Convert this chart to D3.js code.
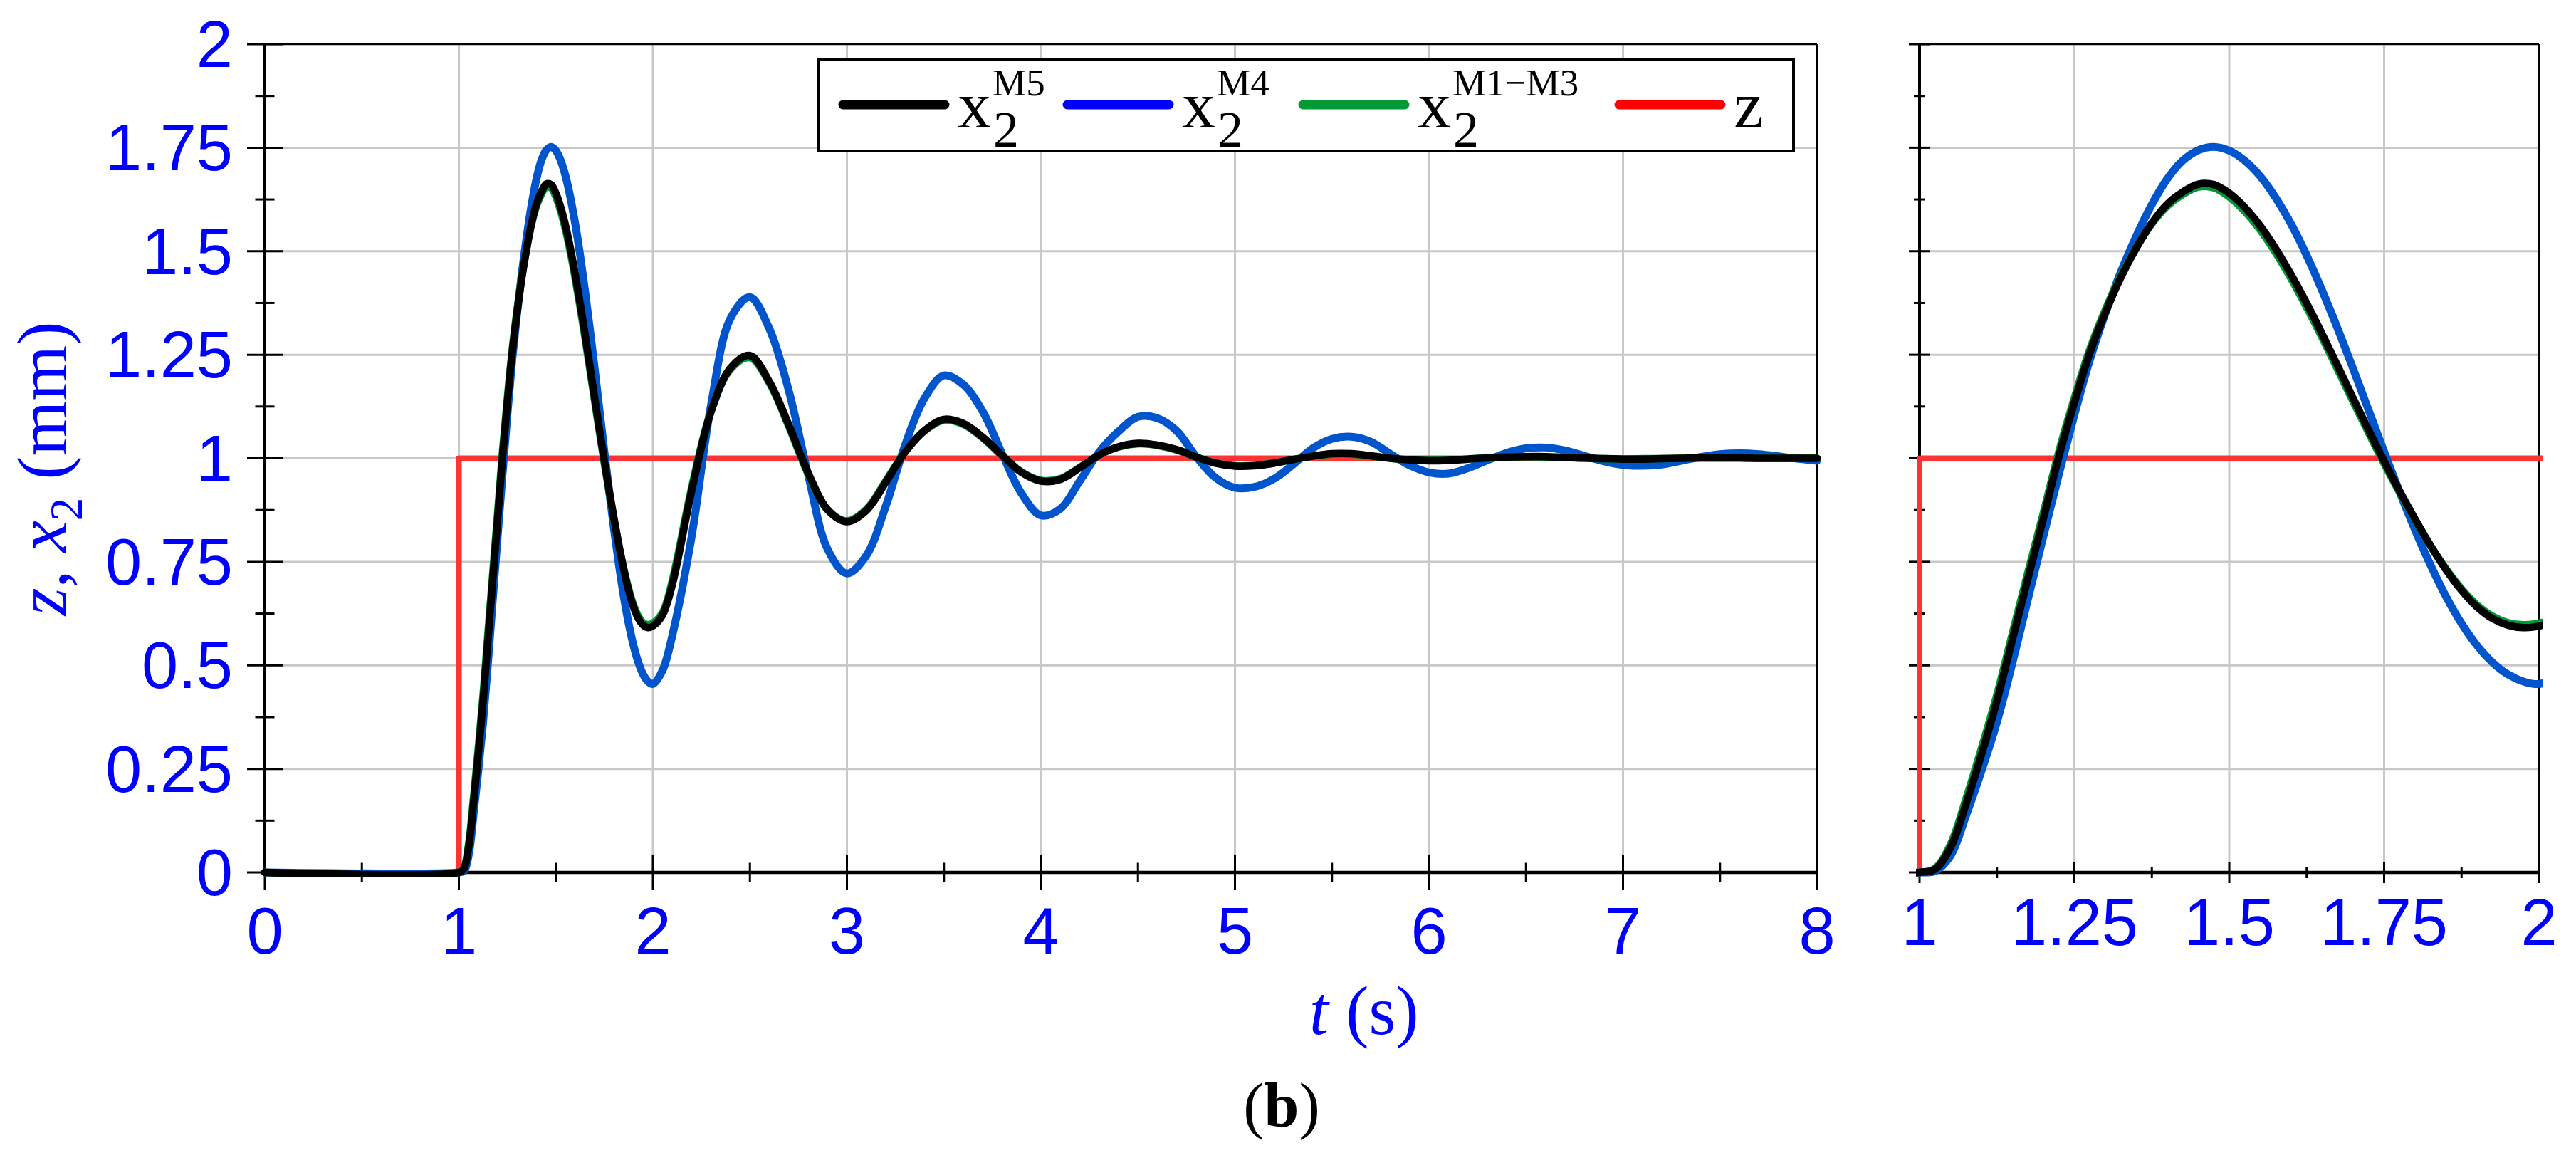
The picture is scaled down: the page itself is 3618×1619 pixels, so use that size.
<!DOCTYPE html>
<meta charset="utf-8">
<head>
<style>
  body { margin: 0; background: #fff; }
  .grid { stroke: #c8c8c8; stroke-width: 3; }
  .tickmark { stroke: #000; stroke-width: 3; }
  .ticklabel { font-family: "Liberation Sans", Arial, sans-serif; font-size: 92px; fill: #0000ff; }
  .serif { font-family: "Liberation Serif", "Times New Roman", serif; }
  .curve { fill: none; stroke-linejoin: round; stroke-linecap: round; }
</style>
</head>
<body>
<script src="https://d3js.org/d3.v7.min.js"></script>
<script>
// time samples (s), shared by the three x2 responses
var time = [0, 1, 1.025, 1.05, 1.075, 1.1, 1.125, 1.15, 1.175, 1.2, 1.225, 1.25, 1.275, 1.3, 1.325, 1.35,
  1.375, 1.4, 1.425, 1.45, 1.475, 1.5, 1.525, 1.55, 1.575, 1.6, 1.625, 1.65, 1.675, 1.7, 1.725, 1.75,
  1.775, 1.8, 1.825, 1.85, 1.875, 1.9, 1.925, 1.95, 1.975, 2, 2.05,
  2.1, 2.2, 2.3, 2.4, 2.5, 2.6, 2.7, 2.8, 2.9, 3, 3.1, 3.2, 3.3, 3.4, 3.5, 3.6, 3.7, 3.8, 3.9,
  4, 4.1, 4.2, 4.3, 4.4, 4.5, 4.6, 4.7, 4.8, 4.9, 5, 5.1, 5.2, 5.3, 5.4, 5.5, 5.6, 5.7, 5.8, 5.9,
  6, 6.1, 6.2, 6.3, 6.4, 6.5, 6.6, 6.7, 6.8, 6.9, 7, 7.1, 7.2, 7.3, 7.4, 7.5, 7.6, 7.7, 7.8, 7.9, 8];

// x2 (mm), model M5 (black)
var x2M5 = [0, 0, 0.008, 0.06, 0.165, 0.285, 0.415, 0.563, 0.71, 0.855, 1.005, 1.135, 1.255, 1.352, 1.437, 1.508,
  1.568, 1.614, 1.643, 1.662, 1.661, 1.64, 1.606, 1.561, 1.506, 1.443, 1.374, 1.3, 1.223, 1.145, 1.068, 0.993,
  0.921, 0.853, 0.789, 0.731, 0.681, 0.641, 0.613, 0.597, 0.591, 0.595, 0.622,
  0.695, 0.922, 1.113, 1.218, 1.248, 1.185, 1.081, 0.965, 0.876, 0.847, 0.874, 0.942, 1.015, 1.067, 1.094, 1.084, 1.051, 1.007, 0.966,
  0.945, 0.949, 0.977, 1.008, 1.028, 1.036, 1.032, 1.021, 1.003, 0.988, 0.981, 0.982, 0.988, 0.997, 1.005, 1.011, 1.011, 1.006, 1.0, 0.996,
  0.994, 0.995, 0.998, 1.001, 1.003, 1.004, 1.004, 1.002, 1.001, 0.999, 0.998, 0.998, 0.999, 1.0, 1.001, 1.001, 1.001, 1.0, 1.0, 1.0, 1.0];

// x2 (mm), model M4 (blue)
var x2M4 = [0, 0, 0.003, 0.04, 0.137, 0.245, 0.363, 0.506, 0.66, 0.812, 0.962, 1.105, 1.238, 1.35, 1.45, 1.537,
  1.613, 1.675, 1.719, 1.744, 1.752, 1.743, 1.719, 1.681, 1.629, 1.565, 1.49, 1.405, 1.313, 1.216, 1.116, 1.016,
  0.919, 0.827, 0.742, 0.666, 0.601, 0.548, 0.507, 0.478, 0.461, 0.455, 0.488,
  0.572, 0.812, 1.13, 1.338, 1.389, 1.313, 1.164, 0.96, 0.781, 0.722, 0.765, 0.884, 1.032, 1.145, 1.2, 1.178, 1.113, 1.011, 0.915,
  0.862, 0.878, 0.945, 1.015, 1.065, 1.1, 1.097, 1.066, 1.004, 0.953, 0.929, 0.931, 0.95, 0.985, 1.024, 1.047, 1.052, 1.04, 1.011, 0.983,
  0.966, 0.963, 0.976, 0.995, 1.013, 1.024, 1.026, 1.019, 1.006, 0.993, 0.984, 0.982, 0.985, 0.994, 1.003, 1.01, 1.012, 1.01, 1.005, 0.999, 0.994];

// x2 (mm), models M1-M3 (green)
var x2M13 = [0, 0, 0.01, 0.068, 0.178, 0.3, 0.43, 0.578, 0.725, 0.869, 1.017, 1.146, 1.264, 1.359, 1.441, 1.509,
  1.566, 1.609, 1.637, 1.655, 1.653, 1.631, 1.596, 1.551, 1.496, 1.433, 1.364, 1.291, 1.214, 1.137, 1.061, 0.987,
  0.917, 0.851, 0.789, 0.733, 0.685, 0.646, 0.619, 0.603, 0.598, 0.602, 0.628,
  0.705, 0.93, 1.115, 1.215, 1.243, 1.182, 1.077, 0.962, 0.876, 0.849, 0.877, 0.945, 1.016, 1.066, 1.092, 1.082, 1.049, 1.006, 0.967,
  0.947, 0.951, 0.978, 1.008, 1.027, 1.035, 1.031, 1.02, 1.003, 0.989, 0.982, 0.983, 0.989, 0.997, 1.005, 1.01, 1.01, 1.005, 1.0, 0.996,
  0.995, 0.996, 0.998, 1.001, 1.003, 1.004, 1.003, 1.002, 1.0, 0.999, 0.998, 0.999, 0.999, 1.0, 1.001, 1.001, 1.001, 1.0, 1.0, 1.0, 1.0];

// road input z (mm), a unit step at t = 1 s
var zTime = [0, 1, 1, 8];
var zValue = [0, 0, 1, 1];

// ticks
var yTicks = [0, 0.25, 0.5, 0.75, 1, 1.25, 1.5, 1.75, 2];
var yTickLabels = ["0", "0.25", "0.5", "0.75", "1", "1.25", "1.5", "1.75", "2"];
var xTicksMain = [0, 1, 2, 3, 4, 5, 6, 7, 8];
var xTickLabelsMain = ["0", "1", "2", "3", "4", "5", "6", "7", "8"];
var xTicksZoom = [1, 1.25, 1.5, 1.75, 2];
var xTickLabelsZoom = ["1", "1.25", "1.5", "1.75", "2"];

var width = 3618, height = 1619;

var svg = d3.select("body")
    .append("svg")
    .attr("width", width)
    .attr("height", height);

var y = d3.scaleLinear().domain([0, 2]).range([1225, 62]);
var xMain = d3.scaleLinear().domain([0, 8]).range([372, 2552]);
var xZoom = d3.scaleLinear().domain([1, 2]).range([2696, 3566]);

var yMinor = yTicks.slice(0, -1).map(function(d) { return d + 0.125; });

var series = [
  {t: zTime, v: zValue, color: "#ff3333", w: 8, step: true},
  {t: time, v: x2M4, color: "#0055cc", w: 11},
  {t: time, v: x2M13, color: "#009933", w: 10.5},
  {t: time, v: x2M5, color: "#000000", w: 10.5}
];

function crossTicks(g, values, horizontal, pos, half, scale) {
  g.selectAll(null)
      .data(values)
    .enter().append("line")
      .attr("class", "tickmark")
      .attr("x1", function(d) { return horizontal ? scale(d) : pos - half; })
      .attr("x2", function(d) { return horizontal ? scale(d) : pos + half; })
      .attr("y1", function(d) { return horizontal ? pos - half : scale(d); })
      .attr("y2", function(d) { return horizontal ? pos + half : scale(d); });
}

function drawPanel(id, x, xTicks, xMinor, xLabels, xLabelY, majorHalf, minorHalf, showYLabels) {
  var x0 = x.range()[0], x1 = x.range()[1];
  var g = svg.append("g");

  // grid
  g.selectAll(null).data(xTicks.slice(1, -1)).enter().append("line")
      .attr("class", "grid")
      .attr("x1", x).attr("x2", x)
      .attr("y1", y(0)).attr("y2", y(2));
  g.selectAll(null).data(yTicks.slice(1, -1)).enter().append("line")
      .attr("class", "grid")
      .attr("x1", x0).attr("x2", x1)
      .attr("y1", y).attr("y2", y);

  // frame: thin top/right, heavy axes
  g.append("line").attr("x1", x0).attr("x2", x1).attr("y1", y(2)).attr("y2", y(2))
      .attr("stroke", "#000").attr("stroke-width", 2.5);
  g.append("line").attr("x1", x1).attr("x2", x1).attr("y1", y(2)).attr("y2", y(0))
      .attr("stroke", "#000").attr("stroke-width", 2.5);
  g.append("line").attr("x1", x0).attr("x2", x0).attr("y1", y(2)).attr("y2", y(0) + 2)
      .attr("stroke", "#000").attr("stroke-width", 4);
  g.append("line").attr("x1", x0 - 2).attr("x2", x1).attr("y1", y(0)).attr("y2", y(0))
      .attr("stroke", "#000").attr("stroke-width", 4.5);

  crossTicks(g, yTicks, false, x0, majorHalf, y);
  crossTicks(g, yMinor, false, x0, minorHalf, y);
  crossTicks(g, xTicks, true, y(0), majorHalf, x);
  crossTicks(g, xMinor, true, y(0), minorHalf, x);

  // tick labels
  g.selectAll(null).data(xTicks).enter().append("text")
      .attr("class", "ticklabel")
      .attr("text-anchor", "middle")
      .attr("x", x)
      .attr("y", xLabelY)
      .text(function(d, i) { return xLabels[i]; });
  if (showYLabels) {
    g.selectAll(null).data(yTicks).enter().append("text")
        .attr("class", "ticklabel")
        .attr("text-anchor", "end")
        .attr("x", x0 - 45)
        .attr("y", function(d) { return y(d) + 32; })
        .text(function(d, i) { return yTickLabels[i]; });
  }

  // curves
  svg.append("clipPath").attr("id", id)
    .append("rect")
      .attr("x", x0 - 5).attr("y", y(2))
      .attr("width", x1 - x0 + 10).attr("height", y(0) - y(2) + 6);

  var plot = svg.append("g").attr("clip-path", "url(#" + id + ")");
  series.forEach(function(s) {
    var pts = s.t.map(function(t, i) { return [t, s.v[i]]; });
    var line = d3.line()
        .x(function(d) { return x(d[0]); })
        .y(function(d) { return y(d[1]); })
        .curve(s.step ? d3.curveLinear : d3.curveCatmullRom.alpha(0.5));
    plot.append("path")
        .datum(pts)
        .attr("class", "curve")
        .attr("stroke", s.color)
        .attr("stroke-width", s.w)
        .attr("stroke-linecap", s.step ? "butt" : "round")
        .attr("stroke-linejoin", s.step ? "miter" : "round")
        .attr("d", line);
  });
}

drawPanel("clipMain", xMain, xTicksMain, d3.range(0.5, 8, 1), xTickLabelsMain, 1339, 25, 13.5, true);
drawPanel("clipZoom", xZoom, xTicksZoom, [1.125, 1.375, 1.625, 1.875], xTickLabelsZoom, 1327, 15, 8, false);

// legend
var legendItems = [
  {sup: "M5", color: "#000000", x: 1177, label: "x"},
  {sup: "M4", color: "#0000ff", x: 1492, label: "x"},
  {sup: "M1\u2212M3", color: "#009933", x: 1823, label: "x"},
  {sup: null, color: "#ff0000", x: 2267, label: "z"}
];

var legend = svg.append("g");
legend.append("rect")
    .attr("x", 1150).attr("y", 83)
    .attr("width", 1369).attr("height", 129)
    .attr("fill", "#fff")
    .attr("stroke", "#000")
    .attr("stroke-width", 4);

legendItems.forEach(function(d) {
  legend.append("line")
      .attr("x1", d.x + 7).attr("x2", d.x + 150)
      .attr("y1", 147).attr("y2", 147)
      .attr("stroke", d.color)
      .attr("stroke-width", 13)
      .attr("stroke-linecap", "round");
  var tx = legend.append("text")
      .attr("class", "serif")
      .attr("x", d.x + 168).attr("y", 179)
      .style("font-size", "94px")
      .text(d.label);
  if (d.sup) {
    var w = tx.node().getComputedTextLength();
    legend.append("text")
        .attr("class", "serif")
        .attr("x", d.x + 168 + w + 3).attr("y", 206)
        .style("font-size", "72px")
        .text("2");
    legend.append("text")
        .attr("class", "serif")
        .attr("x", d.x + 168 + w + 2).attr("y", 134)
        .style("font-size", "53px")
        .text(d.sup);
  }
});

// y axis title
var yTitle = svg.append("text")
    .attr("class", "serif")
    .attr("transform", "translate(93,658) rotate(-90)")
    .attr("text-anchor", "middle")
    .attr("fill", "#0000ff")
    .style("font-size", "100px");
yTitle.append("tspan").style("font-style", "italic").text("z");
yTitle.append("tspan").text(", ");
yTitle.append("tspan").style("font-style", "italic").text("x");
yTitle.append("tspan").attr("dy", 22).style("font-size", "65px").text("2");
yTitle.append("tspan").attr("dy", -22).text(" (mm)");

// x axis title
var xTitle = svg.append("text")
    .attr("class", "serif")
    .attr("x", 1839).attr("y", 1452)
    .attr("fill", "#0000ff")
    .style("font-size", "97px");
xTitle.append("tspan").style("font-style", "italic").text("t");
xTitle.append("tspan").text(" (s)");

// panel caption
var cap = svg.append("text")
    .attr("class", "serif")
    .attr("x", 1800).attr("y", 1582)
    .attr("text-anchor", "middle")
    .attr("fill", "#000")
    .style("font-size", "88px");
cap.append("tspan").text("(");
cap.append("tspan").style("font-weight", "bold").text("b");
cap.append("tspan").text(")");
</script>
</body>
